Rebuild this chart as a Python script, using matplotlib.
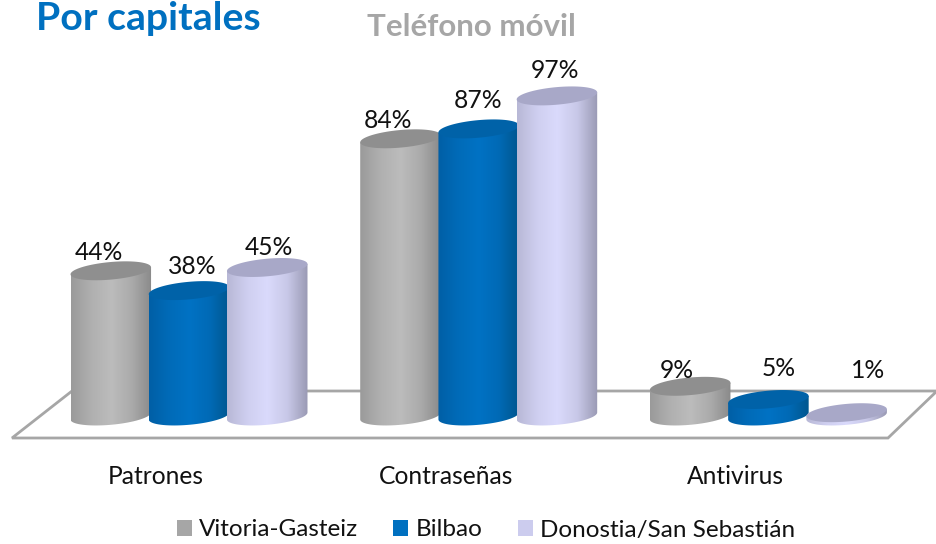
import matplotlib
matplotlib.use("Agg")
import matplotlib.pyplot as plt
import numpy as np
from matplotlib.colors import LinearSegmentedColormap
from matplotlib.patches import Patch, PathPatch, Polygon
from matplotlib.path import Path

plt.rcParams['font.family'] = ['Lato', 'DejaVu Sans']

categories = ["Patrones", "Contraseñas", "Antivirus"]
series_names = ["Vitoria-Gasteiz", "Bilbao", "Donostia/San Sebastián"]
vitoria = [44, 84, 9]
bilbao = [38, 87, 5]
donostia = [45, 97, 1]

W, H = 937, 544
fig = plt.figure(figsize=(W / 100, H / 100), dpi=100)

# background layer in pixels for the floor and the titles
bg = fig.add_axes([0, 0, 1, 1], zorder=0)
bg.set_xlim(0, W)
bg.set_ylim(H, 0)
bg.axis("off")
bg.add_patch(Polygon([(12, 438), (888, 438), (937, 391), (72, 391)], closed=True,
                     fill=False, ec="#a6a6a6", lw=2, joinstyle="miter"))
bg.text(36, 30, "Por capitales", color="#0070c0", fontsize=28.3, fontweight="bold", va="baseline")
bg.text(367, 36, "Teléfono móvil", color="#a6a6a6", fontsize=22.5, fontweight="bold", va="baseline")

# chart axes: values in percent, groups one unit apart
px_per_group = 289.7
px_per_pct = 3.3
x0_px, y0_px = 189.0, 416.0
bottom_px = 458
ax = fig.add_axes([0, 1 - bottom_px / H, 1, bottom_px / H], zorder=1)
ax.patch.set_visible(False)
xlim = (-x0_px / px_per_group, (W - x0_px) / px_per_group)
ylim = ((y0_px - bottom_px) / px_per_pct, y0_px / px_per_pct)

offset = 0.27
half_w = 0.139
ell_b = 8.8 / px_per_pct
ell_tilt = 3.5 / px_per_pct

series = [vitoria, bilbao, donostia]
side_colors = [
    ["#9a9a9a", "#b0b0b0", "#bcbcbc", "#ababab", "#8a8a8a"],
    ["#005fa6", "#006bb8", "#0072c4", "#006ab6", "#00578f"],
    ["#b8b8d6", "#cfcff0", "#dadafc", "#c8c8e8", "#9a9ab4"],
]
top_colors = ["#8f8f8f", "#0062a8", "#a8a8c8"]
legend_colors = ["#a6a6a6", "#0070c0", "#ccccee"]


def ellipse_xy(cx, v, t):
    return cx + half_w * np.cos(t), v + ell_b * np.sin(t) + ell_tilt * np.cos(t)


for s, values in enumerate(series):
    cmap = LinearSegmentedColormap.from_list("side", side_colors[s])
    grad = np.linspace(0, 1, 128).reshape(1, -1)
    for g, v in enumerate(values):
        cx = g + (s - 1) * offset
        # body: top edge straight across, bottom follows the lower half of the base ellipse
        t = np.linspace(np.pi, 2 * np.pi, 40)
        bx, by = ellipse_xy(cx, 0, t)
        tx, ty = ellipse_xy(cx, v, np.array([0.0, np.pi]))
        body = Path(np.column_stack([np.r_[bx, tx, bx[0]], np.r_[by, ty, by[0]]]))
        patch = PathPatch(body, fc="none", ec="none", transform=ax.transData)
        ax.add_patch(patch)
        im = ax.imshow(grad, cmap=cmap, aspect="auto", zorder=2 + s,
                       extent=(cx - half_w, cx + half_w, -20, 120))
        im.set_clip_path(patch)
        t = np.linspace(0, 2 * np.pi, 80)
        ex, ey = ellipse_xy(cx, v, t)
        ax.fill(ex, ey, color=top_colors[s], lw=0, zorder=2 + s)

ax.set_xlim(xlim)
ax.set_ylim(ylim)
ax.set_yticks([])
ax.set_xticks(np.arange(3) - 33 / px_per_group, categories)
ax.tick_params(axis="x", length=0, labelsize=17.7, pad=5, labelcolor="#111111")
for sp in ax.spines.values():
    sp.set_visible(False)

# data labels sit at hand-placed spots in the original chart
label_px = [(99, 253), (192, 266), (269, 248), (388, 121), (478, 100), (555, 70),
            (677, 370), (779, 368), (868, 371)]
flat = [series[s][g] for g in range(3) for s in range(3)]
for (px, py), v in zip(label_px, flat):
    fig.text(px / W, 1 - py / H, f"{v}%", fontsize=17.7, color="#111111",
             ha="center", va="center", zorder=10)

handles = [Patch(fc=c, ec="none") for c in legend_colors]
fig.legend(handles, series_names, loc="center", bbox_to_anchor=(486 / W, 1 - 530 / H), ncol=3,
           frameon=False, fontsize=17.5, handlelength=0.62, handleheight=0.62,
           handletextpad=0.3, columnspacing=1.45, labelcolor="#111111",
           borderpad=0, borderaxespad=0)

fig.savefig("out.png", dpi=100)
